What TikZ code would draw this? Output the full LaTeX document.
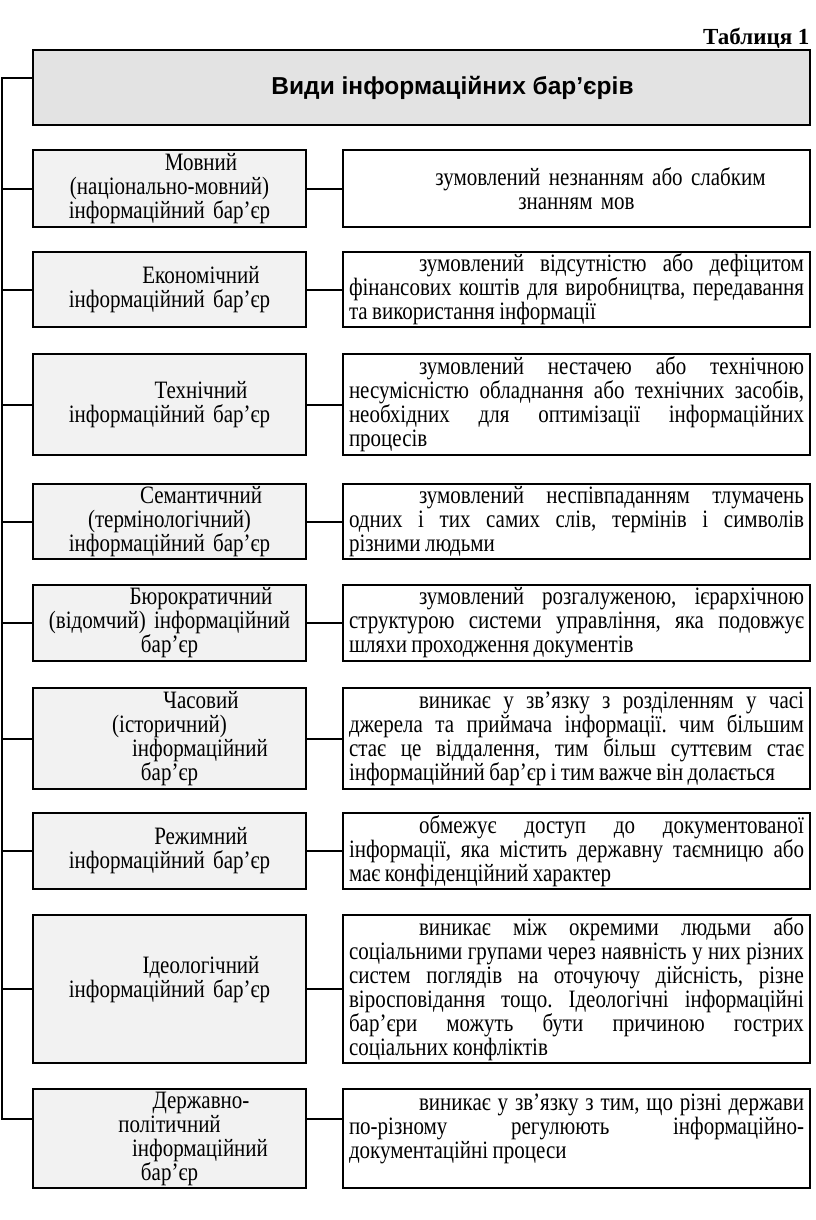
\documentclass[tikz,border=0pt]{standalone}
\usepackage{fontspec}
\setmainfont{Liberation Serif}[FakeStretch=0.84,WordSpace=0.84]
\newfontfamily\headfont{Liberation Sans}
\newfontfamily\tabfont{Liberation Serif}
\usepackage{xcolor}
\definecolor{headgray}{HTML}{E3E3E3}
\definecolor{kindgray}{HTML}{F2F2F2}
\tolerance=10000
\hyphenpenalty=10000
\exhyphenpenalty=10000
\frenchspacing

\begin{document}
\begin{tikzpicture}[x=1pt,y=-1pt,
    body/.style={font=\fontsize{25}{24}\selectfont},
    head/.style={draw=black,line width=2pt,fill=headgray,minimum width=777pt,minimum height=75pt,font=\headfont\fontsize{24.5}{26}\selectfont\bfseries},
    kind/.style={body,draw=black,line width=2pt,fill=kindgray,text width=262pt,align=center,inner xsep=5.5pt,inner ysep=2pt},
    note/.style={body,draw=black,line width=2pt,fill=white,text width=455pt,align=justify,inner xsep=6pt,inner ysep=2pt},
    link/.style={line width=2pt}]
    \useasboundingbox (0,0) rectangle (816,1220);
    \node[font=\tabfont\fontsize{23}{24}\selectfont\bfseries,anchor=east] (tab) at (813,38) {Таблиця 1};
    \node[head] (head) at (421.5,87.5) {\hspace*{62pt}Види інформаційних бар’єрів};
    \node[kind,minimum height=77pt] (kind1) at (169.5,188.5) {\hspace*{63pt}Мовний\\(національно-мовний)\\інформаційний бар’єр};
    \node[note,align=center,minimum height=77pt] (note1) at (576.5,188.5) {\hspace*{48pt}зумовлений незнанням або слабким\\знанням мов};
    \node[kind,minimum height=75pt] (kind2) at (169.5,289.5) {\hspace*{63pt}Економічний\\інформаційний бар’єр};
    \node[note,minimum height=75pt] (note2) at (576.5,289.5) {\hspace*{70pt}зумовлений відсутністю або дефіцитом\linebreak фінансових коштів для виробництва, передавання\linebreak та використання інформації};
    \node[kind,minimum height=101pt] (kind3) at (169.5,404.5) {\hspace*{63pt}Технічний\\інформаційний бар’єр};
    \node[note,minimum height=101pt] (note3) at (576.5,404.5) {\hspace*{70pt}зумовлений нестачею або технічною\linebreak несумісністю обладнання або технічних засобів,\linebreak необхідних для оптимізації інформаційних\linebreak процесів};
    \node[kind,minimum height=75pt] (kind4) at (169.5,521.5) {\hspace*{63pt}Семантичний\\(термінологічний)\\інформаційний бар’єр};
    \node[note,minimum height=75pt] (note4) at (576.5,521.5) {\hspace*{70pt}зумовлений неспівпаданням тлумачень\linebreak одних і тих самих слів, термінів і символів\linebreak різними людьми};
    \node[kind,minimum height=76pt] (kind5) at (169.5,623) {\hspace*{63pt}Бюрократичний\\(відомчий) інформаційний\\бар’єр};
    \node[note,minimum height=76pt] (note5) at (576.5,623) {\hspace*{70pt}зумовлений розгалуженою, ієрархічною\linebreak структурою системи управління, яка подовжує\linebreak шляхи проходження документів};
    \node[kind,minimum height=101pt] (kind6) at (169.5,738.5) {\hspace*{63pt}Часовий\\(історичний)\hspace*{21pt}\\\hspace*{61pt}інформаційний\\бар’єр};
    \node[note,minimum height=101pt] (note6) at (576.5,738.5) {\hspace*{70pt}виникає у зв’язку з розділенням у часі\linebreak джерела та приймача інформації. чим більшим\linebreak стає це віддалення, тим більш суттєвим стає\linebreak інформаційний бар’єр і тим важче він долається};
    \node[kind,minimum height=76pt] (kind7) at (169.5,851) {\hspace*{63pt}Режимний\\інформаційний бар’єр};
    \node[note,minimum height=76pt] (note7) at (576.5,851) {\hspace*{70pt}обмежує доступ до документованої\linebreak інформації, яка містить державну таємницю або\linebreak має конфіденційний характер};
    \node[kind,minimum height=148pt] (kind8) at (169.5,989) {\hspace*{63pt}Ідеологічний\\інформаційний бар’єр\\\mbox{}};
    \node[note,minimum height=148pt] (note8) at (576.5,989) {\hspace*{70pt}виникає між окремими людьми або\linebreak соціальними групами через наявність у них різних\linebreak систем поглядів на оточуючу дійсність, різне\linebreak віросповідання тощо. Ідеологічні інформаційні\linebreak бар’єри можуть бути причиною гострих\linebreak соціальних конфліктів};
    \node[kind,minimum height=99pt] (kind9) at (169.5,1138.5) {\hspace*{63pt}Державно-\\політичний\\\hspace*{61pt}інформаційний\\бар’єр};
    \node[note,minimum height=99pt] (note9) at (576.5,1138.5) {\hspace*{70pt}виникає у зв’язку з тим, що різні держави\linebreak по-різному регулюють інформаційно-\linebreak документаційні процеси\\\mbox{}};
    \coordinate (top) at (2,78);
    \coordinate (bot) at (2,1119);
    \draw[link] (head.west |- top) -- (top) -- (bot) -- (bot -| kind9.west);
    \draw[link] (kind1.west) -- (kind1.west -| top);
    \draw[link] (kind2.west) -- (kind2.west -| top);
    \draw[link] (kind3.west) -- (kind3.west -| top);
    \draw[link] (kind4.west) -- (kind4.west -| top);
    \draw[link] (kind5.west) -- (kind5.west -| top);
    \draw[link] (kind6.west) -- (kind6.west -| top);
    \draw[link] (kind7.west) -- (kind7.west -| top);
    \draw[link] (kind8.west) -- (kind8.west -| top);
    \draw[link] (kind1.east) -- (note1.west);
    \draw[link] (kind2.east) -- (note2.west);
    \draw[link] (kind3.east) -- (note3.west);
    \draw[link] (kind4.east) -- (note4.west);
    \draw[link] (kind5.east) -- (note5.west);
    \draw[link] (kind6.east) -- (note6.west);
    \draw[link] (kind7.east) -- (note7.west);
    \draw[link] (kind8.east) -- (note8.west);
    \draw[link] (bot -| kind9.east) -- (bot -| note9.west);
\end{tikzpicture}
\end{document}
